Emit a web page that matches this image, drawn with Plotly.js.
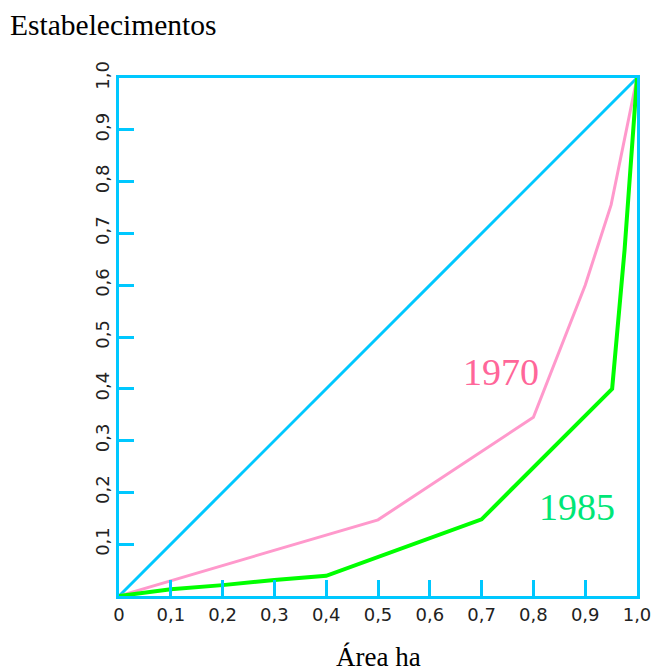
<!DOCTYPE html>
<html>
<head>
<meta charset="utf-8">
<script src="https://cdn.plot.ly/plotly-3.0.1.min.js"></script>
<style>html,body{margin:0;padding:0;background:#fff;}#chart{width:651px;height:672px;}</style>
</head>
<body>
<div id="chart"></div>
<script>
var diagX = [0, 1];
var diagY = [0, 1];
var x1970 = [0, 0.5, 0.8, 0.9, 0.95, 1.0];
var y1970 = [0, 0.147, 0.345, 0.6, 0.755, 1.0];
var x1985 = [0, 0.1, 0.2, 0.3, 0.4, 0.7, 0.952, 0.976, 1.0];
var y1985 = [0, 0.013, 0.021, 0.031, 0.039, 0.148, 0.40, 0.668, 1.0];
var xTickVals = [0, 0.1, 0.2, 0.3, 0.4, 0.5, 0.6, 0.7, 0.8, 0.9, 1.0];
var xTickText = ["0", "0,1", "0,2", "0,3", "0,4", "0,5", "0,6", "0,7", "0,8", "0,9", "1,0"];
var yTickVals = [0.1, 0.2, 0.3, 0.4, 0.5, 0.6, 0.7, 0.8, 0.9, 1.0];
var yTickText = ["0,1", "0,2", "0,3", "0,4", "0,5", "0,6", "0,7", "0,8", "0,9", "1,0"];

var cyan = "#00c8ff";
var traces = [
  {x: diagX, y: diagY, mode: "lines", line: {color: cyan, width: 3}, hoverinfo: "skip"},
  {x: x1970, y: y1970, mode: "lines", line: {color: "#ff99cc", width: 3}, name: "1970"},
  {x: x1985, y: y1985, mode: "lines", line: {color: "#00ff00", width: 4}, name: "1985"}
];

var layout = {
  width: 651, height: 672,
  margin: {l: 119, r: 14, t: 78, b: 76},
  paper_bgcolor: "#ffffff", plot_bgcolor: "#ffffff",
  showlegend: false,
  title: {
    text: "Estabelecimentos",
    font: {family: "Liberation Serif", size: 29.5, color: "#000000"},
    x: 10/651, xanchor: "left", xref: "container",
    y: 1 - 25/672, yanchor: "middle", yref: "container"
  },
  xaxis: {
    range: [0, 1], showgrid: false, zeroline: false,
    showline: true, mirror: true, linecolor: cyan, linewidth: 3,
    ticks: "inside", ticklen: 16, tickwidth: 3, tickcolor: cyan,
    tickmode: "array", tickvals: xTickVals, ticktext: xTickText,
    ticklabeloverflow: "allow",
    tickfont: {family: "DejaVu Sans", size: 18, color: "#222222"},
    fixedrange: true
  },
  yaxis: {
    range: [0, 1], showgrid: false, zeroline: false,
    showline: true, mirror: true, linecolor: cyan, linewidth: 3,
    ticks: "inside", ticklen: 15, tickwidth: 3, tickcolor: cyan,
    tickmode: "array", tickvals: yTickVals, ticktext: yTickText,
    tickangle: -90,
    ticklabeloverflow: "allow",
    tickfont: {family: "DejaVu Sans", size: 18, color: "#222222"},
    fixedrange: true
  },
  annotations: [
    {x: 0.5, y: 0, xref: "paper", yref: "paper", yanchor: "middle", yshift: -61,
     text: "Área ha", showarrow: false, borderpad: 0,
     font: {family: "Liberation Serif", size: 27, color: "#000000"}},
    {x: 0.738, y: 0.432, xref: "x", yref: "y", text: "1970", showarrow: false,
     font: {family: "Liberation Serif", size: 38, color: "#ff6699"}},
    {x: 0.884, y: 0.172, xref: "x", yref: "y", text: "1985", showarrow: false,
     font: {family: "Liberation Serif", size: 38, color: "#00e676"}}
  ]
};

Plotly.newPlot("chart", traces, layout, {displayModeBar: false, staticPlot: true});
</script>
</body>
</html>
